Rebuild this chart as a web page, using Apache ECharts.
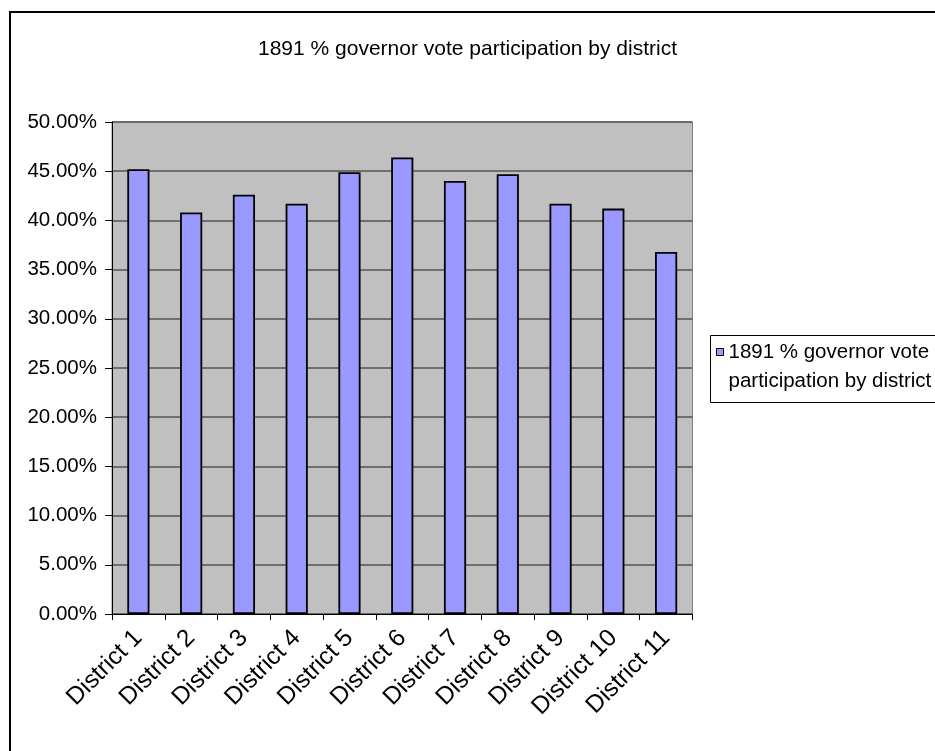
<!DOCTYPE html>
<html>
<head>
<meta charset="utf-8">
<style>
  html, body { margin: 0; padding: 0; background: #ffffff; }
  #chart { width: 935px; height: 751px; }
</style>
<script src="https://cdn.jsdelivr.net/npm/echarts@6/dist/echarts.min.js"></script>
</head>
<body>
<div id="chart"></div>
<script>
// Districts along the category axis
const districts = ['District 1', 'District 2', 'District 3', 'District 4', 'District 5', 'District 6',
                   'District 7', 'District 8', 'District 9', 'District 10', 'District 11'];
// Share of eligible voters taking part in the 1891 governor race (%)
const participation = [45.2, 40.8, 42.6, 41.7, 44.9, 46.4, 44.0, 44.7, 41.7, 41.2, 36.8];
// Value axis range and step (%)
const yMin = 0, yMax = 50, yStep = 5;

const seriesName = '1891 % governor vote participation by district';
const FONT = 'Liberation Sans, Arial, sans-serif';
const LH = 29;

const chart = echarts.init(document.getElementById('chart'), null, { renderer: 'canvas' });

chart.setOption({
  backgroundColor: '#ffffff',
  animation: false,
  title: {
    text: seriesName,
    left: 'center',
    top: 34,
    textStyle: { fontFamily: FONT, fontSize: 21, fontWeight: 'normal', color: '#000' }
  },
  graphic: [
    // outer chart frame (runs off the right and bottom edges)
    { type: 'rect', z: -10, silent: true,
      shape: { x: 10, y: 12, width: 1000, height: 1000 },
      style: { fill: 'none', stroke: '#000', lineWidth: 2 } },
    // legend frame
    { type: 'rect', z: 1, silent: true,
      shape: { x: 710.5, y: 335.5, width: 300, height: 67 },
      style: { fill: '#fff', stroke: '#000', lineWidth: 1 } }
  ],
  legend: {
    left: 716,
    top: 352 - 1.5 * LH,
    padding: 0,
    z: 5,
    icon: 'rect',
    itemWidth: 7,
    itemHeight: 7,
    itemGap: 0,
    itemStyle: { borderColor: '#000', borderWidth: 1 },
    // leading blank line keeps the swatch level with the first text line
    formatter: () => '\n1891 % governor vote\nparticipation by district',
    textStyle: { fontFamily: FONT, fontSize: 20.5, lineHeight: LH, color: '#000' },
    data: [seriesName]
  },
  grid: {
    left: 112, right: 242.5, top: 122, bottom: 137,
    show: true,
    backgroundColor: '#c0c0c0',
    borderColor: '#808080',
    borderWidth: 1
  },
  xAxis: {
    type: 'category',
    data: districts,
    boundaryGap: true,
    axisLine: { show: true, lineStyle: { color: '#000', width: 1 } },
    axisTick: { show: true, length: 6, inside: false, lineStyle: { color: '#000' } },
    axisLabel: { rotate: 45, margin: 20, interval: 0, fontFamily: FONT, fontSize: 24.5, color: '#000' }
  },
  yAxis: {
    type: 'value',
    min: yMin, max: yMax, interval: yStep,
    axisLine: { show: true, lineStyle: { color: '#000', width: 1 } },
    axisTick: { show: true, length: 7, lineStyle: { color: '#000' } },
    splitLine: { show: true, lineStyle: { color: '#555', width: 1.5 } },
    axisLabel: {
      margin: 15, fontFamily: FONT, fontSize: 20.5, color: '#000',
      formatter: v => v.toFixed(2) + '%'
    }
  },
  series: [{
    name: seriesName,
    type: 'bar',
    data: participation,
    barWidth: '42%',
    itemStyle: { color: '#9999ff', borderColor: '#000', borderWidth: 1.8 }
  }]
});
</script>
</body>
</html>
